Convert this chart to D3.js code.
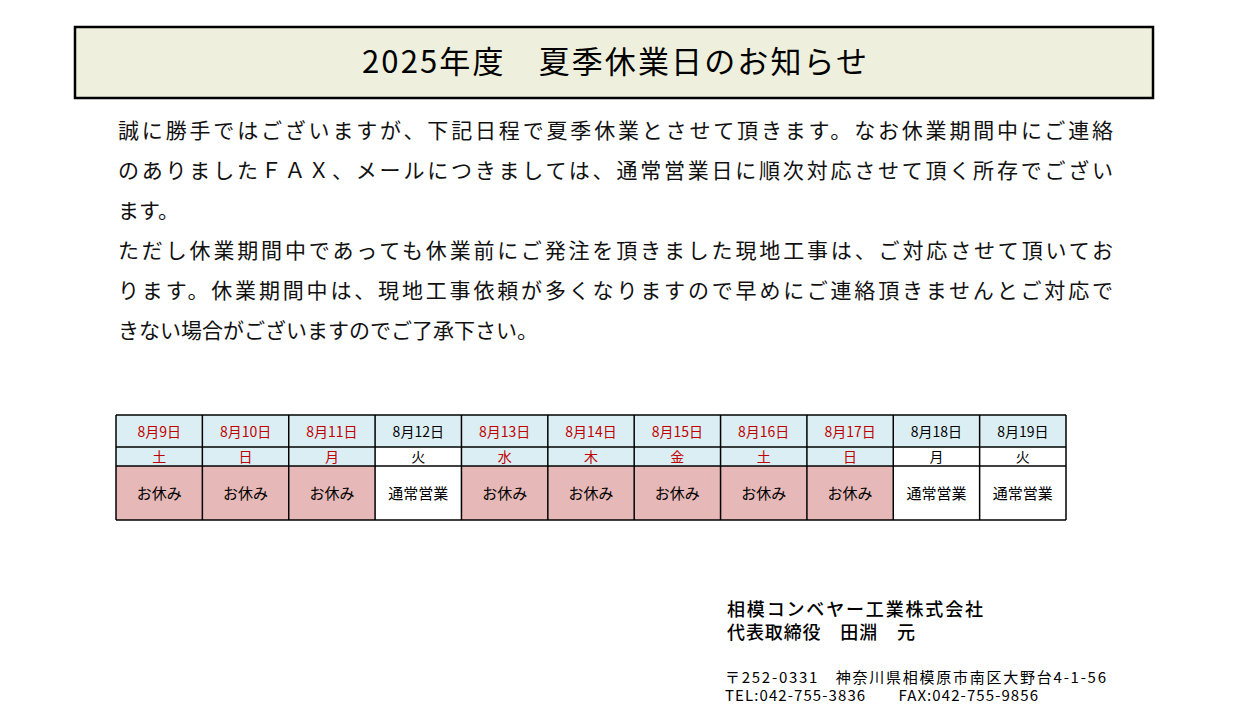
<!DOCTYPE html><html><head><meta charset="utf-8">
<script src="https://cdn.jsdelivr.net/npm/d3@7"></script>
<style>body{margin:0;background:#fff}text{font-family:"Noto Sans CJK JP",sans-serif}</style></head><body>
<script>
const dates=["8月9日","8月10日","8月11日","8月12日","8月13日","8月14日","8月15日","8月16日","8月17日","8月18日","8月19日"];
const weekdays=["土","日","月","火","水","木","金","土","日","月","火"];
const status=["お休み","お休み","お休み","通常営業","お休み","お休み","お休み","お休み","お休み","通常営業","通常営業"];
const title="2025年度　夏季休業日のお知らせ";
const bodyLines=["誠に勝手ではございますが、下記日程で夏季休業とさせて頂きます。なお休業期間中にご連絡","のありましたＦＡＸ、メールにつきましては、通常営業日に順次対応させて頂く所存でござい","ます。","ただし休業期間中であっても休業前にご発注を頂きました現地工事は、ご対応させて頂いてお","ります。休業期間中は、現地工事依頼が多くなりますので早めにご連絡頂きませんとご対応で","きない場合がございますのでご了承下さい。"];
const company=["相模コンベヤー工業株式会社","代表取締役　田淵　元"];
const companyWidths=[256,188];
const address=["〒252-0331　神奈川県相模原市南区大野台4-1-56","TEL:042-755-3836　　FAX:042-755-9856"];
const addressWidths=[381,313];

const svg=d3.select("body").append("svg").attr("width",1240).attr("height",720);
svg.append("rect").attr("x",75).attr("y",27).attr("width",1078).attr("height",71).attr("fill","#eef0dd").attr("stroke","#000").attr("stroke-width",2.5);
svg.append("text").attr("x",362).attr("y",73).attr("font-size",31).attr("font-weight",400).attr("textLength",505).attr("lengthAdjust","spacing").text(title);

const ly=d3.scalePoint().domain(d3.range(bodyLines.length)).range([138,338]);
svg.selectAll(".bl").data(bodyLines).join("text").attr("x",118).attr("y",(d,i)=>ly(i)).attr("font-size",21)
 .attr("fill","#111").each(function(d){if(d.length>40)d3.select(this).attr("textLength",995).attr("lengthAdjust","spacing");}).text(d=>d);

const x=d3.scaleBand().domain(d3.range(dates.length)).range([116,1066]);
const rows=[{y:415,h:32},{y:447,h:19},{y:466,h:54}];
const isHol=i=>status[i]==="お休み";
const g=svg.append("g");
dates.forEach((d,i)=>{
  const X=x(i),w=x.bandwidth();
  g.append("rect").attr("x",X).attr("y",rows[0].y).attr("width",w).attr("height",rows[0].h).attr("fill","#dbeef3");
  g.append("rect").attr("x",X).attr("y",rows[1].y).attr("width",w).attr("height",rows[1].h).attr("fill",isHol(i)?"#dbeef3":"#fff");
  g.append("rect").attr("x",X).attr("y",rows[2].y).attr("width",w).attr("height",rows[2].h).attr("fill",isHol(i)?"#e6b8b7":"#fff");
  const c=isHol(i)?"#c00000":"#000";
  g.append("text").attr("x",X+w/2).attr("y",437).attr("text-anchor","middle").attr("font-size",14).attr("fill",c).text(d);
  g.append("text").attr("x",X+w/2).attr("y",462).attr("text-anchor","middle").attr("font-size",14).attr("fill",c).text(weekdays[i]);
  g.append("text").attr("x",X+w/2).attr("y",499).attr("text-anchor","middle").attr("font-size",15).attr("fill","#000").text(status[i]);
});
[415,447,466,520].forEach(y=>g.append("line").attr("x1",116).attr("x2",1066).attr("y1",y).attr("y2",y).attr("stroke","#000").attr("stroke-width",1.5));
d3.range(dates.length+1).forEach(i=>{const X=i<dates.length?x(i):1066;g.append("line").attr("x1",X).attr("x2",X).attr("y1",415).attr("y2",520).attr("stroke","#000").attr("stroke-width",1.5);});

svg.selectAll(".co").data(company).join("text").attr("x",727).attr("y",(d,i)=>616+i*23).attr("font-size",18).attr("font-weight",500)
  .attr("textLength",(d,i)=>companyWidths[i]).attr("lengthAdjust","spacing").text(d=>d);
svg.selectAll(".ad").data(address).join("text").attr("x",725).attr("y",(d,i)=>683+i*18).attr("font-size",15)
  .attr("textLength",(d,i)=>addressWidths[i]).attr("lengthAdjust","spacing").text(d=>d);
</script></body></html>
